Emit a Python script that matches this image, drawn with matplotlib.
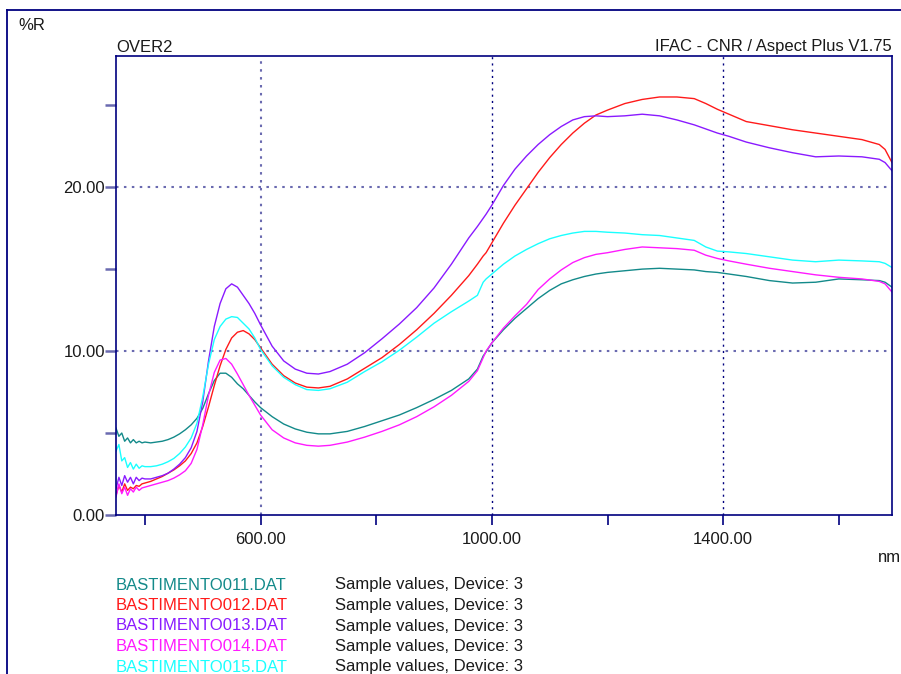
#!/usr/bin/env python3
# Reflectance overlay (Aspect Plus style) - five BASTIMENTO spectra
import matplotlib
matplotlib.use("Agg")
import matplotlib.pyplot as plt
from matplotlib.lines import Line2D
from matplotlib.ticker import FixedLocator

plt.rcParams["font.family"] = ["Liberation Sans", "DejaVu Sans"]

# ---------- data ----------
wl = [350, 355, 360, 365, 370, 375, 380, 385, 390, 395, 400, 410, 420, 430, 440,
      450, 460, 470, 480, 490, 500, 510, 520, 530, 540, 550, 560, 570, 580, 590,
      600, 620, 640, 660, 680, 700, 720, 750, 780, 810, 840, 870, 900, 930, 960,
      975, 985, 990, 1000, 1020, 1040, 1060, 1080, 1100, 1120, 1140, 1160, 1180,
      1200, 1230, 1260, 1290, 1320, 1350, 1370, 1390, 1410, 1440, 1480, 1520,
      1560, 1600, 1640, 1670, 1680, 1692]

r011 = [5.3, 4.8, 5.0, 4.5, 4.7, 4.4, 4.6, 4.4, 4.5, 4.4, 4.45, 4.4, 4.45, 4.5, 4.6,
        4.75, 4.95, 5.2, 5.5, 5.9, 6.5, 7.4, 8.2, 8.65, 8.65, 8.4, 8.0, 7.7, 7.3, 6.9,
        6.55, 6.0, 5.55, 5.25, 5.05, 4.95, 4.95, 5.1, 5.4, 5.75, 6.1, 6.55, 7.05, 7.6, 8.3,
        8.9, 9.7, 9.95, 10.5, 11.3, 12.0, 12.6, 13.2, 13.7, 14.1, 14.35, 14.55, 14.7,
        14.8, 14.9, 15.0, 15.05, 15.0, 14.95, 14.85, 14.8, 14.7, 14.55, 14.3, 14.15,
        14.2, 14.4, 14.35, 14.3, 14.2, 13.9]

r012 = [1.2, 1.8, 1.4, 1.9, 1.5, 1.7, 1.6, 1.8, 1.75, 1.9, 1.95, 2.05, 2.2, 2.35, 2.55,
        2.75, 3.0, 3.3, 3.75, 4.4, 5.4, 6.6, 7.9, 9.1, 10.1, 10.8, 11.15, 11.25, 11.05, 10.7,
        10.2, 9.2, 8.5, 8.05, 7.8, 7.75, 7.85, 8.3, 8.95, 9.6, 10.4, 11.3, 12.3, 13.4, 14.6,
        15.3, 15.8, 16.0, 16.6, 17.8, 18.9, 19.9, 20.9, 21.8, 22.6, 23.3, 23.9, 24.4,
        24.7, 25.1, 25.35, 25.5, 25.5, 25.4, 25.1, 24.75, 24.45, 24.0, 23.75, 23.5,
        23.3, 23.1, 22.9, 22.6, 22.3, 21.5]

r013 = [1.6, 2.3, 1.8, 2.4, 2.0, 2.3, 1.9, 2.3, 2.1, 2.25, 2.2, 2.2, 2.3, 2.4, 2.55,
        2.8, 3.1, 3.5, 4.1, 5.1, 6.9, 9.4, 11.5, 12.9, 13.8, 14.1, 13.9, 13.4, 12.9, 12.3,
        11.6, 10.3, 9.4, 8.9, 8.65, 8.6, 8.75, 9.2, 9.9, 10.75, 11.65, 12.65, 13.85, 15.3, 16.9,
        17.6, 18.1, 18.35, 18.9, 20.1, 21.1, 21.9, 22.6, 23.2, 23.7, 24.1, 24.3, 24.35,
        24.3, 24.35, 24.45, 24.35, 24.1, 23.8, 23.55, 23.3, 23.1, 22.75, 22.4, 22.1,
        21.85, 21.9, 21.85, 21.7, 21.5, 21.0]

r014 = [1.1, 1.9, 1.3, 1.7, 1.2, 1.6, 1.4, 1.7, 1.5, 1.65, 1.7, 1.8, 1.9, 2.0, 2.1,
        2.25, 2.45, 2.7, 3.15, 4.0, 5.5, 7.3, 8.7, 9.45, 9.55, 9.2, 8.6, 7.95, 7.3, 6.7,
        6.1, 5.2, 4.7, 4.4, 4.25, 4.2, 4.25, 4.45, 4.75, 5.1, 5.5, 6.0, 6.6, 7.3, 8.15,
        8.8, 9.6, 10.0, 10.5, 11.4, 12.15, 12.85, 13.75, 14.4, 14.95, 15.4, 15.7, 15.9,
        16.0, 16.2, 16.35, 16.3, 16.25, 16.15, 15.85, 15.65, 15.5, 15.3, 15.05, 14.85,
        14.65, 14.5, 14.4, 14.25, 14.1, 13.6]

r015 = [3.9, 4.3, 3.3, 3.5, 2.9, 3.2, 2.8, 3.1, 2.85, 3.0, 2.95, 2.95, 3.0, 3.1, 3.25,
        3.45, 3.75, 4.15, 4.7, 5.6, 7.2, 9.2, 10.7, 11.5, 11.95, 12.1, 12.05, 11.7, 11.35, 10.8,
        10.1, 9.1, 8.4, 7.95, 7.65, 7.6, 7.7, 8.1, 8.75, 9.35, 10.05, 10.85, 11.7, 12.4, 13.05,
        13.4, 14.2, 14.4, 14.7, 15.3, 15.8, 16.2, 16.55, 16.85, 17.05, 17.2, 17.3, 17.3,
        17.25, 17.2, 17.1, 17.05, 16.9, 16.75, 16.35, 16.1, 16.05, 15.95, 15.75, 15.55,
        15.45, 15.55, 15.5, 15.45, 15.35, 15.1]

names  = ["BASTIMENTO011.DAT", "BASTIMENTO012.DAT", "BASTIMENTO013.DAT",
          "BASTIMENTO014.DAT", "BASTIMENTO015.DAT"]
series = [r011, r012, r013, r014, r015]
colors = ["#138a8a", "#ff1a1a", "#8a1aff", "#ff1aff", "#1affff"]

x_major = [600, 1000, 1400]
x_minor = [400, 800, 1200, 1600]
y_major = [0, 10, 20]
y_minor = [5, 15, 25]

NAVY  = "#00007f"
SLATE = "#6a6ab0"
TXT   = "#1a1a1a"
FS    = 12

# ---------- figure ----------
W, H = 901, 674
fig = plt.figure(figsize=(W / 100, H / 100), dpi=100)
fig.patch.set_facecolor("white")

def fx(px): return px / W
def fy(py): return 1 - py / H

# outer frame (left + top)
fig.add_artist(Line2D([fx(7), fx(7)], [fy(10), 0], color=NAVY, lw=1.3))
fig.add_artist(Line2D([fx(7), 1], [fy(10), fy(10)], color=NAVY, lw=1.3))

ax = fig.add_axes([fx(116), fy(515), (892 - 116) / W, (515 - 56) / H])
for s, c in zip(series, colors):
    ax.plot(wl, s, color=c, lw=1.0)

ax.set_xlim(350, 1692)
ax.set_ylim(0, 28)

for sp in ax.spines.values():
    sp.set_color(NAVY)
    sp.set_linewidth(1.2)

# grid
for yv in [10, 20]:
    ax.axhline(yv, color=SLATE, lw=1.5, ls=(0, (1.2, 2.6)), zorder=0)
ax.axvline(600, color=SLATE, lw=1.5, ls=(0, (1.2, 2.6)), zorder=0)
for xv in [1000, 1400]:
    ax.axvline(xv, color=NAVY, lw=1.0, ls=(0, (1.5, 3)), zorder=0)

ax.xaxis.set_major_locator(FixedLocator(x_major))
ax.xaxis.set_minor_locator(FixedLocator(x_minor))
ax.yaxis.set_major_locator(FixedLocator(y_major))
ax.yaxis.set_minor_locator(FixedLocator(y_minor))
ax.set_xticklabels([f"{v:.2f}" for v in x_major])
ax.set_yticklabels([f"{v:.2f}" for v in y_major])

ax.tick_params(axis="x", which="both", direction="out", length=7, width=1.2,
               color=NAVY, labelsize=FS, labelcolor=TXT, pad=5)
ax.tick_params(axis="y", which="both", direction="out", length=8, width=1.8,
               color=SLATE, labelsize=FS, labelcolor=TXT, pad=0)

# texts
fig.text(fx(18), fy(26), "%R", fontsize=FS, color=TXT, va="center", ha="left")
fig.text(fx(116), fy(47), "OVER2", fontsize=FS, color=TXT, va="center", ha="left")
fig.text(fx(892), fy(47), "IFAC - CNR / Aspect Plus V1.75", fontsize=FS, color=TXT,
         va="center", ha="right")
fig.text(fx(878), fy(558), "nm", fontsize=FS, color=TXT, va="center", ha="left")

# legend block
for i, (n, c) in enumerate(zip(names, colors)):
    yy = 585 + i * 20.5
    fig.text(fx(116), fy(yy), n, fontsize=FS, color=c, va="center", ha="left")
    fig.text(fx(335), fy(yy), "Sample values, Device: 3", fontsize=FS, color=TXT,
             va="center", ha="left")

fig.savefig("out.png", dpi=100)
